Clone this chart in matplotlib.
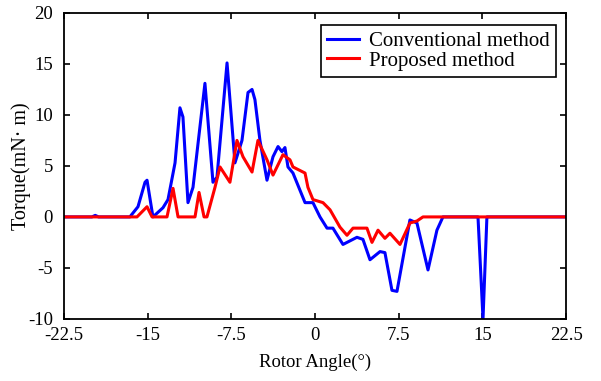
import matplotlib
matplotlib.use('Agg')
import matplotlib.pyplot as plt

plt.rcParams['font.family'] = ['Liberation Serif', 'DejaVu Serif']
plt.rcParams['axes.unicode_minus'] = False

# Conventional method (blue)
conv_angle = [-22.5, -20.0, -19.7, -19.4, -16.6, -15.87, -15.24, -15.06, -14.53,
              -13.63, -13.18, -12.55, -12.11, -11.84, -11.39, -10.94, -9.87,
              -9.15, -8.79, -7.89, -7.18, -6.55, -6.01, -5.65, -5.39, -4.94,
              -4.31, -3.77, -3.32, -2.97, -2.70, -2.43, -1.98, -0.90, -0.19,
              0.44, 1.07, 1.60, 2.50, 3.75, 4.29, 4.92, 5.82, 6.26, 6.89, 7.34,
              8.50, 9.13, 10.12, 10.92, 11.46, 14.6, 15.05, 15.40, 15.76, 22.5]
conv_torque = [0.0, 0.0, 0.15, 0.0, 0.0, 1.0, 3.4, 3.6, 0.0,
               0.9, 1.7, 5.3, 10.7, 9.8, 1.4, 2.9, 13.1,
               3.4, 3.9, 15.1, 5.3, 7.5, 12.2, 12.5, 11.5, 7.5,
               3.6, 5.9, 6.9, 6.4, 6.8, 4.9, 4.3, 1.4, 1.4,
               0.0, -1.1, -1.1, -2.7, -2.0, -2.2, -4.2, -3.4, -3.5, -7.2, -7.3,
               -0.3, -0.6, -5.2, -1.3, 0.0, 0.0, -10.0, 0.0, 0.0, 0.0]

# Proposed method (red)
prop_angle = [-22.5, -15.96, -15.06, -14.61, -13.27, -12.73, -12.28, -10.76,
              -10.40, -9.95, -9.69, -8.97, -8.52, -7.63, -7.00, -6.46, -5.65,
              -5.12, -4.31, -3.77, -2.88, -2.25, -1.98, -0.90, -0.64, -0.19,
              0.71, 1.34, 2.23, 2.86, 3.40, 4.65, 5.10, 5.64, 6.26, 6.71, 7.61,
              8.50, 9.13, 9.67, 22.5]
prop_torque = [0.0, 0.0, 1.0, 0.0, 0.0, 2.8, 0.0, 0.0,
               2.4, 0.0, 0.0, 2.9, 4.9, 3.4, 7.5, 5.9, 4.4,
               7.5, 5.6, 4.1, 6.1, 5.6, 4.9, 4.3, 2.9, 1.7,
               1.4, 0.7, -1.0, -1.8, -1.1, -1.1, -2.5, -1.3, -2.1, -1.6, -2.7,
               -0.6, -0.4, 0.0, 0.0]

xticks = [-22.5, -15, -7.5, 0, 7.5, 15, 22.5]
xtick_labels = ['-22.5', '-15', '-7.5', '0', '7.5', '15', '22.5']
yticks = [-10, -5, 0, 5, 10, 15, 20]

fig = plt.figure(figsize=(6.01, 3.81), dpi=100)
ax = fig.add_axes([0.1065, 0.163, 0.8355, 0.803])

ax.plot(conv_angle, conv_torque, color='#0000ff', lw=2.2, label='Conventional method')
ax.plot(prop_angle, prop_torque, color='#ff0000', lw=2.2, label='Proposed method')

ax.set_xlim(-22.5, 22.5)
ax.set_ylim(-10, 20)
ax.set_xticks(xticks)
ax.set_xticklabels(xtick_labels)
ax.set_yticks(yticks)
ax.tick_params(direction='in', top=True, right=True, labelsize=13.5, length=4,
               width=1.2)
ax.tick_params(axis='x', pad=6)
ax.tick_params(axis='y', pad=8)
for s in ax.spines.values():
    s.set_linewidth(1.3)

ax.set_xlabel('Rotor Angle(°)', fontsize=13.5, labelpad=7)
ax.set_ylabel('Torque(mN· m)', fontsize=14.5, labelpad=-2)

leg = ax.legend(loc='upper right', bbox_to_anchor=(0.98, 0.96), borderaxespad=0,
                fontsize=15, fancybox=False, edgecolor='black', framealpha=1,
                handlelength=1.5, handletextpad=0.5, borderpad=0.3,
                labelspacing=0.0)
leg.get_frame().set_linewidth(1.2)

fig.savefig('out.png', dpi=100)
